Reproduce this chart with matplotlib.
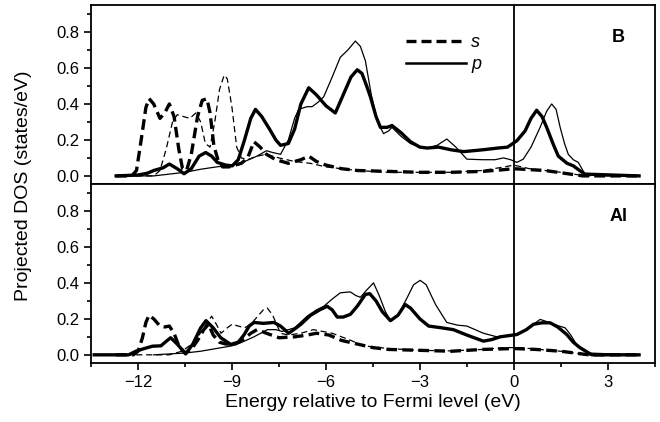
import matplotlib
matplotlib.use("Agg")
import matplotlib.pyplot as plt
from matplotlib.ticker import MultipleLocator
from matplotlib.lines import Line2D

plt.rcParams['font.family'] = ['Liberation Sans', 'DejaVu Sans']

# ---- B panel (top) ----
b_s_thick_x = [-12.7, -12.2, -12.05, -11.9, -11.75, -11.65, -11.5, -11.3, -11.15, -11.0, -10.85, -10.7,
               -10.58, -10.45, -10.3, -10.1, -9.95, -9.8, -9.7, -9.58, -9.45, -9.3, -9.1, -8.9, -8.7,
               -8.5, -8.3, -8.1, -7.9, -7.6, -7.2, -6.8, -6.55, -6.3, -6.0, -5.5, -5.0, -4.0, -3.0,
               -2.0, -1.0, -0.3, 0.0, 0.5, 1.0, 1.6, 2.2, 4.0]
b_s_thick_y = [0, 0, 0.03, 0.2, 0.38, 0.43, 0.40, 0.32, 0.35, 0.40, 0.33, 0.15,
               0.04, 0.03, 0.12, 0.33, 0.42, 0.43, 0.35, 0.17, 0.09, 0.05, 0.05, 0.06, 0.07,
               0.10, 0.19, 0.16, 0.12, 0.09, 0.07, 0.09, 0.11, 0.08, 0.06, 0.04, 0.03, 0.025, 0.02,
               0.02, 0.025, 0.035, 0.04, 0.035, 0.03, 0.015, 0.0, 0.0]

b_s_thin_x = [-12.7, -11.5, -11.3, -11.1, -10.9, -10.75, -10.55, -10.35, -10.15, -10.0, -9.85, -9.7,
              -9.55, -9.4, -9.25, -9.15, -9.0, -8.85, -8.7, -8.5, -8.2, -7.9, -7.5, -7.0, -6.5, -6.0,
              -5.0, -4.0, -3.0, -2.0, -1.0, -0.3, 0.0, 0.5, 1.0, 1.5, 2.3, 4.0]
b_s_thin_y = [0, 0, 0.03, 0.15, 0.30, 0.34, 0.33, 0.32, 0.35, 0.30, 0.18, 0.16,
              0.30, 0.48, 0.56, 0.54, 0.38, 0.16, 0.10, 0.09, 0.11, 0.12, 0.10, 0.08, 0.07, 0.05,
              0.03, 0.02, 0.02, 0.02, 0.03, 0.05, 0.06, 0.04, 0.03, 0.02, 0.0, 0.0]

b_p_thick_x = [-12.7, -12.0, -11.7, -11.5, -11.2, -11.0, -10.75, -10.53, -10.3, -10.05, -9.84, -9.65,
               -9.47, -9.2, -8.99, -8.8, -8.6, -8.4, -8.25, -8.05, -7.8, -7.6, -7.45, -7.2, -7.0, -6.8,
               -6.55, -6.3, -6.0, -5.7, -5.45, -5.2, -5.0, -4.85, -4.7, -4.58, -4.4, -4.26, -4.05,
               -3.89, -3.6, -3.3, -3.0, -2.77, -2.4, -2.0, -1.6, -1.0, -0.5, -0.2, 0.1, 0.36, 0.55,
               0.73, 0.9, 1.05, 1.25, 1.42, 1.7, 1.9, 2.1, 2.27, 4.0]
b_p_thick_y = [0, 0.005, 0.015, 0.03, 0.045, 0.066, 0.04, 0.012, 0.04, 0.11, 0.13, 0.11,
               0.075, 0.06, 0.056, 0.09, 0.20, 0.32, 0.37, 0.33, 0.26, 0.20, 0.17, 0.18, 0.26, 0.40,
               0.49, 0.45, 0.39, 0.35, 0.45, 0.55, 0.59, 0.57, 0.50, 0.44, 0.33, 0.27, 0.27,
               0.28, 0.24, 0.19, 0.16, 0.155, 0.16, 0.145, 0.135, 0.145, 0.155, 0.16, 0.196, 0.25, 0.32,
               0.365, 0.33, 0.27, 0.18, 0.11, 0.07, 0.056, 0.03, 0.01, 0.0]

b_p_thin_x = [-12.7, -11.5, -11.0, -10.5, -10.0, -9.5, -9.0, -8.6, -8.2, -7.9, -7.7, -7.45, -7.2,
              -7.0, -6.87, -6.6, -6.44, -6.25, -6.07, -5.8, -5.54, -5.3, -5.06, -4.9, -4.74, -4.55,
              -4.35, -4.16, -4.0, -3.89, -3.6, -3.3, -3.0, -2.77, -2.45, -2.14, -1.85, -1.5, -1.0,
              -0.6, -0.33, -0.1, 0.1, 0.3, 0.55, 0.84, 1.05, 1.21, 1.35, 1.48, 1.62, 1.74, 1.9,
              2.06, 2.27, 4.0]
b_p_thin_y = [0, 0, 0.01, 0.02, 0.037, 0.05, 0.06, 0.08, 0.11, 0.14, 0.13, 0.12, 0.20,
              0.32, 0.37, 0.385, 0.385, 0.41, 0.44, 0.55, 0.66, 0.70, 0.75, 0.72, 0.64, 0.45,
              0.30, 0.235, 0.25, 0.27, 0.22, 0.18, 0.16, 0.155, 0.17, 0.205, 0.16, 0.093, 0.09,
              0.09, 0.10, 0.09, 0.075, 0.093, 0.16, 0.27, 0.36, 0.40, 0.37, 0.27, 0.18, 0.12, 0.09,
              0.075, 0.01, 0.0]

# ---- Al panel (bottom) ----
al_s_thick_x = [-12.7, -12.15, -12.0, -11.86, -11.75, -11.65, -11.5, -11.3, -11.15, -11.0, -10.85,
                -10.7, -10.5, -10.3, -10.1, -9.9, -9.75, -9.6, -9.4, -9.2, -8.9, -8.6, -8.4, -8.2,
                -7.9, -7.5, -7.0, -6.6, -6.3, -5.9, -5.5, -5.0, -4.5, -4.0, -3.0, -2.0, -1.0, 0.0,
                0.7, 1.5, 2.4, 4.0]
al_s_thick_y = [0, 0, 0.02, 0.095, 0.18, 0.22, 0.2, 0.16, 0.155, 0.16, 0.12,
                0.05, 0.01, 0.03, 0.08, 0.14, 0.17, 0.11, 0.07, 0.06, 0.06, 0.09, 0.12, 0.14,
                0.12, 0.095, 0.10, 0.11, 0.12, 0.11, 0.08, 0.06, 0.04, 0.03, 0.025, 0.02, 0.03, 0.035,
                0.03, 0.02, 0.0, 0.0]

al_s_thin_x = [-12.7, -11.0, -10.6, -10.2, -9.9, -9.65, -9.5, -9.35, -9.15, -9.0, -8.8, -8.6, -8.4,
               -8.2, -8.0, -7.87, -7.7, -7.45, -7.2, -6.8, -6.4, -6.1, -5.8, -5.5, -5.2, -4.8, -4.0,
               -3.0, -2.0, -1.0, -0.3, 0.2, 0.8, 1.5, 2.4, 4.0]
al_s_thin_y = [0, 0, 0.02, 0.07, 0.15, 0.215, 0.17, 0.12, 0.15, 0.17, 0.16, 0.15, 0.17,
               0.21, 0.25, 0.26, 0.22, 0.12, 0.11, 0.12, 0.14, 0.13, 0.12, 0.10, 0.08, 0.05, 0.035,
               0.025, 0.022, 0.03, 0.04, 0.04, 0.03, 0.02, 0.0, 0.0]

al_p_thick_x = [-13.4, -12.3, -12.07, -11.8, -11.54, -11.27, -11.1, -10.96, -10.75, -10.48, -10.25,
                -10.0, -9.83, -9.6, -9.36, -9.04, -8.8, -8.62, -8.45, -8.3, -8.0, -7.66, -7.45, -7.19,
                -6.95, -6.8, -6.49, -6.2, -5.96, -5.8, -5.64, -5.45, -5.22, -5.0, -4.74, -4.6, -4.4,
                -4.2, -3.94, -3.7, -3.47, -3.3, -3.0, -2.72, -2.3, -1.93, -1.5, -0.97, -0.7, -0.44,
                0.1, 0.4, 0.63, 0.9, 1.16, 1.4, 1.69, 1.9, 2.11, 2.49, 4.0]
al_p_thick_y = [0, 0, 0.02, 0.035, 0.048, 0.05, 0.075, 0.095, 0.06, 0.005, 0.06,
                0.15, 0.19, 0.15, 0.095, 0.058, 0.07, 0.11, 0.16, 0.18, 0.175, 0.18, 0.16, 0.12,
                0.15, 0.17, 0.22, 0.25, 0.27, 0.25, 0.21, 0.21, 0.225, 0.27, 0.336, 0.34, 0.30,
                0.24, 0.19, 0.22, 0.28, 0.26, 0.20, 0.16, 0.15, 0.14, 0.11, 0.076, 0.085, 0.10,
                0.113, 0.14, 0.17, 0.178, 0.178, 0.155, 0.113, 0.07, 0.04, 0.0, 0.0]

al_p_thin_x = [-11.5, -11.0, -10.5, -10.0, -9.5, -9.0, -8.72, -8.3, -7.87, -7.6, -7.4, -7.0, -6.6,
               -6.3, -6.07, -5.8, -5.54, -5.22, -5.05, -4.9, -4.7, -4.48, -4.3, -4.1, -3.94, -3.7,
               -3.4, -3.2, -2.99, -2.8, -2.5, -2.14, -1.8, -1.5, -0.97, -0.54, 0.0, 0.4, 0.84, 1.05,
               1.27, 1.45, 1.64, 1.82, 2.0, 2.38, 4.0]
al_p_thin_y = [0, 0.005, 0.01, 0.02, 0.035, 0.05, 0.067, 0.1, 0.14, 0.14, 0.13, 0.15, 0.215,
               0.25, 0.27, 0.31, 0.345, 0.35, 0.33, 0.32, 0.36, 0.40, 0.33, 0.24, 0.19, 0.22,
               0.32, 0.39, 0.414, 0.39, 0.28, 0.18, 0.165, 0.16, 0.12, 0.10, 0.11, 0.14, 0.197, 0.185,
               0.17, 0.16, 0.15, 0.11, 0.058, 0.01, 0.0]

THICK = 2.4
THIN = 0.9

fig, (ax1, ax2) = plt.subplots(2, 1, sharex=True, figsize=(6.6, 4.22), dpi=100)
fig.subplots_adjust(left=0.138, right=0.992, top=0.988, bottom=0.140, hspace=0)

panels = [
    (ax1, "B", b_s_thick_x, b_s_thick_y, b_s_thin_x, b_s_thin_y,
     b_p_thick_x, b_p_thick_y, b_p_thin_x, b_p_thin_y),
    (ax2, "Al", al_s_thick_x, al_s_thick_y, al_s_thin_x, al_s_thin_y,
     al_p_thick_x, al_p_thick_y, al_p_thin_x, al_p_thin_y),
]

for ax, name, stx, sty, snx, sny, ptx, pty, pnx, pny in panels:
    ax.plot(snx, sny, color='black', lw=THIN, ls=(0, (5, 3)))
    ax.plot(pnx, pny, color='black', lw=THIN)
    ax.plot(stx, sty, color='black', lw=THICK, ls=(0, (3.2, 1.6)))
    ax.plot(ptx, pty, color='black', lw=THICK)
    ax.axvline(0, color='black', lw=1.3)
    ax.set_ylim(-0.045, 0.95)
    ax.yaxis.set_major_locator(MultipleLocator(0.2))
    ax.yaxis.set_minor_locator(MultipleLocator(0.1))
    ax.tick_params(axis='both', which='both', direction='out', labelsize=12, width=1.2)
    ax.tick_params(which='major', length=5)
    ax.tick_params(which='minor', length=3)
    for sp in ax.spines.values():
        sp.set_linewidth(1.3)
    ax.text(0.935, 0.82, name, transform=ax.transAxes, fontsize=13, fontweight='bold',
            ha='center', va='center')

ax2.set_xlim(-13.5, 4.5)
ax2.xaxis.set_major_locator(MultipleLocator(3))
ax2.xaxis.set_minor_locator(MultipleLocator(1.5))
ax2.set_xlabel("Energy relative to Fermi level (eV)", fontsize=14, labelpad=3)
fig.text(0.035, 0.56, "Projected DOS (states/eV)", rotation=90, fontsize=14,
         ha='center', va='center')

handles = [Line2D([], [], color='black', lw=2.4, ls=(0, (3, 1.5))),
           Line2D([], [], color='black', lw=1.8)]
leg = ax1.legend(handles, ["s", "p"], loc='upper left', bbox_to_anchor=(0.53, 0.93),
                 frameon=False, handlelength=3.3, handletextpad=0.3, labelspacing=0.3,
                 prop={'style': 'italic', 'size': 13})

fig.savefig("out.png", dpi=100)
